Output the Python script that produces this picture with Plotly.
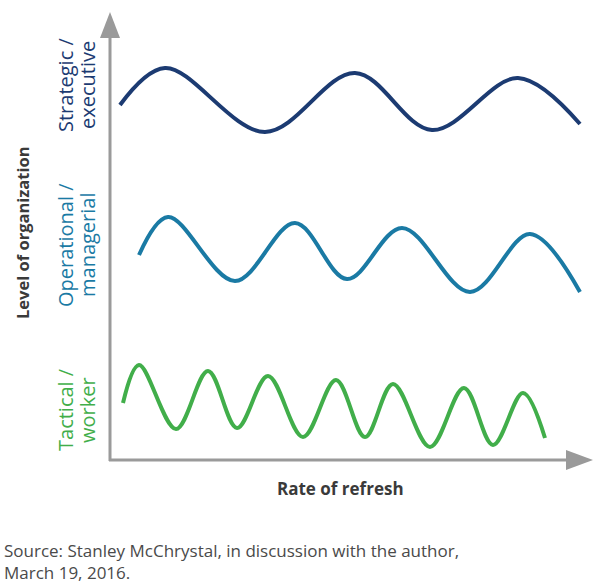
import plotly.graph_objects as go

# Data (x: rate of refresh units, y: level units; origin at axes corner)
strategic_x = [10, 55, 155, 245, 322, 408, 470]
strategic_y = [355, 392, 328, 387, 330, 382, 336]

operational_x = [29, 58, 125, 185, 237, 292, 360, 420, 470]
operational_y = [205, 243, 179, 237, 181, 232, 168, 226, 168]

tactical_x = [13, 29, 66, 98, 127, 158, 193, 226, 255, 283, 320, 354, 383, 413, 435]
tactical_y = [57, 95, 31, 89, 32, 84, 23, 80, 23, 76, 13, 72, 15, 67, 22]

series_line1 = ["Strategic /", "Operational /", "Tactical /"]
series_line2 = ["executive", "managerial", "worker"]
series_colors = ["#1c3b72", "#1a7aa4", "#41ae4a"]
label_y = [375, 215, 50]

x_title = "Rate of refresh"
y_title = "Level of organization"
source_lines = ["Source: Stanley McChrystal, in discussion with the author,", "March 19, 2016."]

fig = go.Figure()
for xs, ys, c in [(strategic_x, strategic_y, series_colors[0]),
                  (operational_x, operational_y, series_colors[1]),
                  (tactical_x, tactical_y, series_colors[2])]:
    fig.add_trace(go.Scatter(x=xs, y=ys, mode="lines",
                             line=dict(color=c, width=4, shape="spline", smoothing=1.0),
                             hoverinfo="skip", showlegend=False))

axis_col = "#9a9a9a"
shapes = [
    dict(type="line", x0=0, y0=-1, x1=0, y1=424, line=dict(color=axis_col, width=3)),
    dict(type="path", path="M -10 422 L 10 422 L 0 448 Z", fillcolor=axis_col, line=dict(width=0)),
    dict(type="line", x0=-1, y0=0, x1=458, y1=0, line=dict(color=axis_col, width=3)),
    dict(type="path", path="M 456 10 L 456 -10 L 483 0 Z", fillcolor=axis_col, line=dict(width=0)),
]

annotations = []
for l1, l2, c, ly in zip(series_line1, series_line2, series_colors, label_y):
    annotations.append(dict(x=-45, y=ly, xref="x", yref="y", text=l1, textangle=-90,
                            showarrow=False, font=dict(family="Open Sans", size=20, color=c)))
    annotations.append(dict(x=-23, y=ly, xref="x", yref="y", text=l2, textangle=-90,
                            showarrow=False, font=dict(family="Open Sans", size=20, color=c)))
annotations.append(dict(x=-88, y=227, xref="x", yref="y", text="<b>" + y_title + "</b>",
                        textangle=-90, showarrow=False,
                        font=dict(family="Open Sans", size=16.5, color="#3a3a3a")))
annotations.append(dict(x=230, y=-28, xref="x", yref="y", text="<b>" + x_title + "</b>",
                        showarrow=False,
                        font=dict(family="Open Sans", size=17, color="#3a3a3a")))
for i, s in enumerate(source_lines):
    annotations.append(dict(x=0.003, y=-90 - 22 * i, xref="paper", yref="y", text=s, xanchor="left",
                            showarrow=False,
                            font=dict(family="Open Sans", size=17, color="#4a4a4a")))

fig.update_layout(
    width=600, height=587, margin=dict(l=0, r=0, t=0, b=0),
    paper_bgcolor="white", plot_bgcolor="white",
    xaxis=dict(range=[-110, 490], visible=False, fixedrange=True),
    yaxis=dict(range=[-127, 460], visible=False, fixedrange=True),
    shapes=shapes, annotations=annotations,
)
fig.write_html("out.html")
